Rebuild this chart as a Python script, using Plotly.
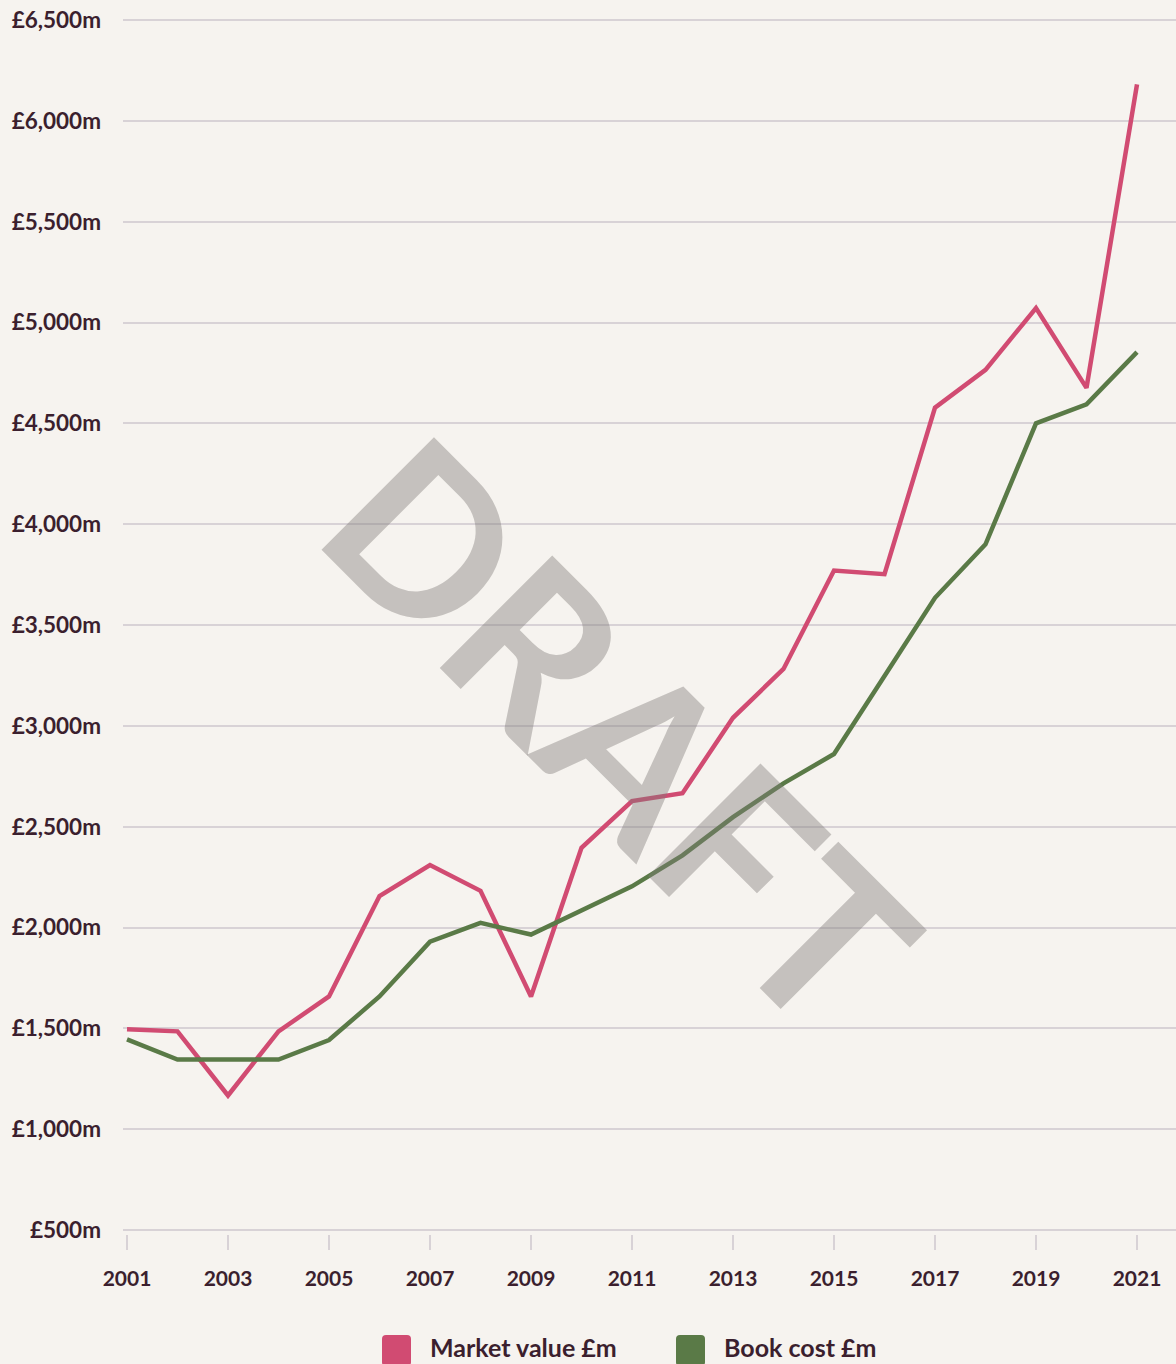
import plotly.graph_objects as go

# ---- data ----
years = list(range(2001, 2022))
market_value = [1495, 1485, 1167, 1485, 1658, 2156, 2310, 2182, 1658, 2395, 2627,
                2666, 3040, 3282, 3770, 3752, 4578, 4765, 5072, 4676, 6181]
book_cost = [1445, 1345, 1345, 1345, 1442, 1658, 1930, 2023, 1965, 2083, 2204,
             2358, 2547, 2715, 2860, 3247, 3635, 3900, 4500, 4594, 4853]
y_ticks = [500, 1000, 1500, 2000, 2500, 3000, 3500, 4000, 4500, 5000, 5500, 6000, 6500]
y_tick_labels = ["£500m", "£1,000m", "£1,500m", "£2,000m", "£2,500m", "£3,000m", "£3,500m",
                 "£4,000m", "£4,500m", "£5,000m", "£5,500m", "£6,000m", "£6,500m"]
x_ticks = list(range(2001, 2022, 2))
series_names = ["Market value £m", "Book cost £m"]

# ---- style ----
W, H = 1176, 1364
BG = "#f6f3ef"
TXT = "#3b1f2e"
GRID = "#d8d2d6"
PINK = "#d14b72"
GREEN = "#5a7a47"
FONT = "Lato"

L, R, T, B = 123, 0, 18, 130
PW = W - L - R
PH = H - T - B
bottom_px = H - B


def px2paper(x, y):
    return (x - L) / PW, (bottom_px - y) / PH


def rounded_rect(x0, y0, x1, y1, r=4):
    rx = r / PW
    ry = r / PH
    a0, b0 = px2paper(x0, y1)  # bottom-left
    a1, b1 = px2paper(x1, y0)  # top-right
    return (f"M {a0+rx},{b0} L {a1-rx},{b0} Q {a1},{b0} {a1},{b0+ry} "
            f"L {a1},{b1-ry} Q {a1},{b1} {a1-rx},{b1} L {a0+rx},{b1} "
            f"Q {a0},{b1} {a0},{b1-ry} L {a0},{b0+ry} Q {a0},{b0} {a0+rx},{b0} Z")


fig = go.Figure()
fig.add_trace(go.Scatter(x=years, y=market_value, mode="lines", name=series_names[0],
                         line=dict(color=PINK, width=4.5), showlegend=False))
fig.add_trace(go.Scatter(x=years, y=book_cost, mode="lines", name=series_names[1],
                         line=dict(color=GREEN, width=4.5), showlegend=False))

ppu = 1210 / 6000
y_range = [500 - 4 / ppu, 6500 + 2 / ppu]
x_range = [2001 - 4 / 50.5, 2001 + (W - 127) / 50.5]

shapes = []
annotations = []
# manual legend
legend_items = [(382, 430, PINK, series_names[0]), (676, 724, GREEN, series_names[1])]
for sx, tx, col, name in legend_items:
    shapes.append(dict(type="path", xref="paper", yref="paper",
                       path=rounded_rect(sx, 1335, sx + 29, 1366, 4),
                       fillcolor=col, line=dict(width=0)))
    ax, ay = px2paper(tx - 2, 1347)
    annotations.append(dict(x=ax, y=ay, xref="paper", yref="paper", text=name,
                            showarrow=False, xanchor="left", yanchor="middle",
                            font=dict(family=FONT, size=25, color=TXT, weight="bold")))

# DRAFT watermark
wx, wy = px2paper(623, 731)
annotations.append(dict(x=wx, y=wy, xref="paper", yref="paper", text="DRAFT",
                        showarrow=False, textangle=45, xanchor="center", yanchor="middle",
                        font=dict(family=FONT, size=220, color="rgba(128,124,122,0.42)",
                                  weight="bold")))

fig.update_layout(
    width=W, height=H,
    paper_bgcolor=BG, plot_bgcolor=BG,
    margin=dict(l=L, r=R, t=T, b=B, pad=0),
    showlegend=False,
    shapes=shapes,
    annotations=annotations,
    font=dict(family=FONT, color=TXT),
    xaxis=dict(range=x_range, tickvals=x_ticks, ticktext=[str(v) for v in x_ticks],
               showgrid=False, zeroline=False, showline=False,
               ticks="outside", ticklen=15, tickwidth=1.5, tickcolor=GRID,
               ticklabelstandoff=11,
               tickfont=dict(family=FONT, size=21, color=TXT, weight="bold")),
    yaxis=dict(range=y_range, tickvals=y_ticks, ticktext=y_tick_labels,
               showgrid=True, gridcolor=GRID, gridwidth=1.5,
               zeroline=False, showline=False, ticks="",
               ticklabelstandoff=21,
               tickfont=dict(family=FONT, size=22.5, color=TXT, weight="bold")),
)

fig.write_html("out.html", config={"displayModeBar": False},
               post_script="document.body.style.margin='0';")
